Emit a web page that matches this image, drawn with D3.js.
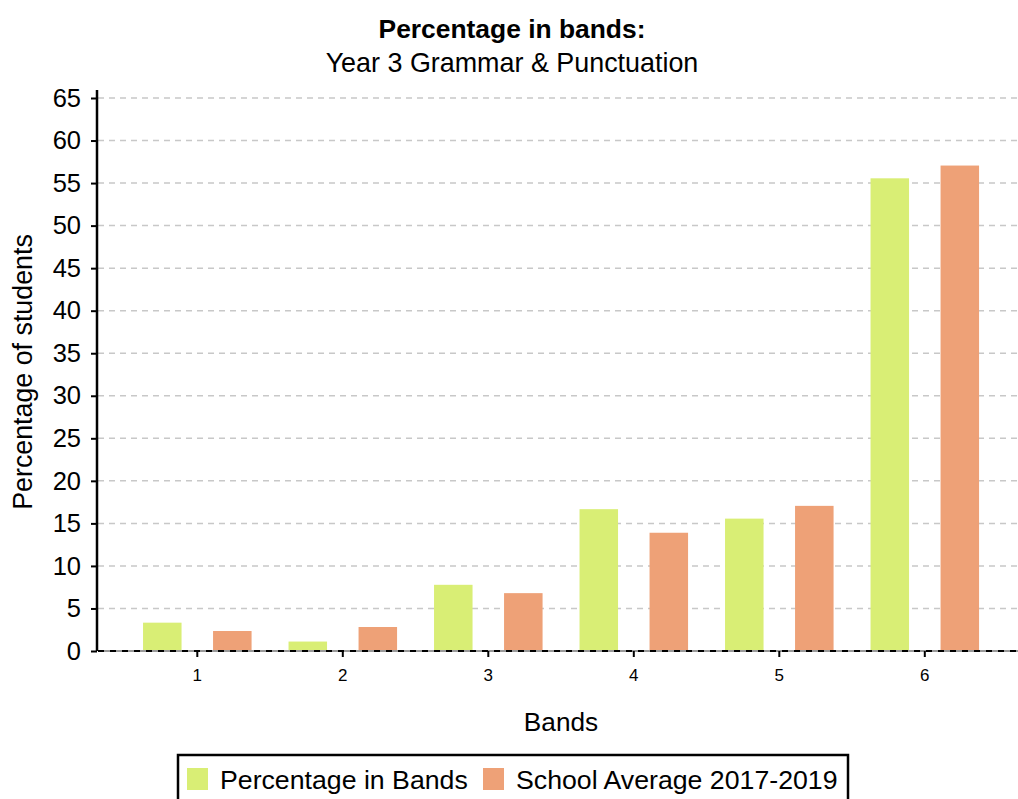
<!DOCTYPE html>
<html>
<head>
<meta charset="utf-8">
<script src="https://cdn.jsdelivr.net/npm/d3@7"></script>
<style>
  html, body { margin: 0; padding: 0; background: #fff; }
  svg { display: block; font-family: "Liberation Sans", Arial, sans-serif; }
</style>
</head>
<body>
<svg id="chart" width="1018" height="799"></svg>
<script>
const categories = ["1", "2", "3", "4", "5", "6"];
const seriesNames = ["Percentage in Bands", "School Average 2017-2019"];
const percentageInBands = [3.33, 1.11, 7.78, 16.67, 15.56, 55.56];
const schoolAverage = [2.35, 2.82, 6.80, 13.90, 17.06, 57.06];
const yTicks = [0, 5, 10, 15, 20, 25, 30, 35, 40, 45, 50, 55, 60, 65];
const colors = ["#d9ee75", "#eea177"];

const seriesValues = [percentageInBands, schoolAverage];
const rows = categories.map((c, i) => ({ cat: c, vals: seriesValues.map((s, j) => ({ key: seriesNames[j], value: s[i], color: colors[j] })) }));

const svg = d3.select("#chart");

const x0 = d3.scaleBand().domain(categories).range([124.55, 997.55]).paddingInner(0).paddingOuter(0);
const x1 = d3.scaleBand().domain(seriesNames).range([0, x0.bandwidth()]).paddingInner(0.45).paddingOuter(0.264);
const y = d3.scaleLinear().domain([0, 65]).range([651, 98]);

// gridlines
svg.append("g").selectAll("line").data(yTicks.filter(t => t > 0)).join("line")
  .attr("x1", 98).attr("x2", 1018)
  .attr("y1", d => y(d)).attr("y2", d => y(d))
  .attr("stroke", "#c8c8c8").attr("stroke-width", 1.5).attr("stroke-dasharray", "6,5");

// bars
const groups = svg.append("g").selectAll("g").data(rows).join("g")
  .attr("transform", d => `translate(${x0(d.cat)},0)`);
groups.selectAll("rect").data(d => d.vals).join("rect")
  .attr("x", d => x1(d.key))
  .attr("width", x1.bandwidth())
  .attr("y", d => y(d.value))
  .attr("height", d => y(0) - y(d.value))
  .attr("fill", d => d.color);

// zero line (grey solid with black dashes)
svg.append("line").attr("x1", 98).attr("x2", 1018).attr("y1", y(0)).attr("y2", y(0))
  .attr("stroke", "#999").attr("stroke-width", 2);
svg.append("line").attr("x1", 98).attr("x2", 1018).attr("y1", y(0)).attr("y2", y(0))
  .attr("stroke", "#000").attr("stroke-width", 2).attr("stroke-dasharray", "6,6");

// y axis
const yAxis = d3.axisLeft(y).tickValues(yTicks).tickSize(6).tickPadding(10).tickFormat(d3.format("d"));
const gy = svg.append("g").attr("transform", "translate(97,0)").call(yAxis);
gy.select(".domain").attr("d", `M0,90V${y(0)}`).attr("stroke", "#000").attr("stroke-width", 2.5);
gy.selectAll(".tick line").attr("stroke", "#000").attr("stroke-width", 2);
gy.selectAll(".tick text").attr("font-size", 25.5).attr("fill", "#000")
  .attr("font-family", "'Liberation Sans', Arial, sans-serif");

// x axis
const xAxis = d3.axisBottom(x0).tickSize(6).tickPadding(12);
const gx = svg.append("g").attr("transform", `translate(0,${y(0)})`).call(xAxis);
gx.select(".domain").remove();
gx.selectAll(".tick line").attr("stroke", "#000").attr("stroke-width", 2);
gx.selectAll(".tick text").attr("font-size", 17).attr("fill", "#000")
  .attr("font-family", "'Liberation Sans', Arial, sans-serif");

// titles
svg.append("text").attr("x", 512).attr("y", 38).attr("text-anchor", "middle")
  .attr("font-size", 26.4).attr("font-weight", "bold").text("Percentage in bands:");
svg.append("text").attr("x", 512).attr("y", 72).attr("text-anchor", "middle")
  .attr("font-size", 26.9).text("Year 3 Grammar & Punctuation");
svg.append("text").attr("x", 561).attr("y", 731).attr("text-anchor", "middle")
  .attr("font-size", 26.2).text("Bands");
svg.append("text").attr("transform", "translate(32,372) rotate(-90)").attr("text-anchor", "middle")
  .attr("font-size", 26.8).text("Percentage of students");

// legend
svg.append("rect").attr("x", 178).attr("y", 755).attr("width", 670).attr("height", 60)
  .attr("fill", "#fff").attr("stroke", "#000").attr("stroke-width", 2.5);
const legendX = [187, 483];
const lg = svg.append("g").selectAll("g").data(seriesNames).join("g")
  .attr("transform", (d, i) => `translate(${legendX[i]},0)`);
lg.append("rect").attr("x", 0).attr("y", 768).attr("width", 21).attr("height", 22)
  .attr("fill", (d, i) => colors[i]);
lg.append("text").attr("x", 33).attr("y", 789).attr("font-size", 26.7).text(d => d);
</script>
</body>
</html>
